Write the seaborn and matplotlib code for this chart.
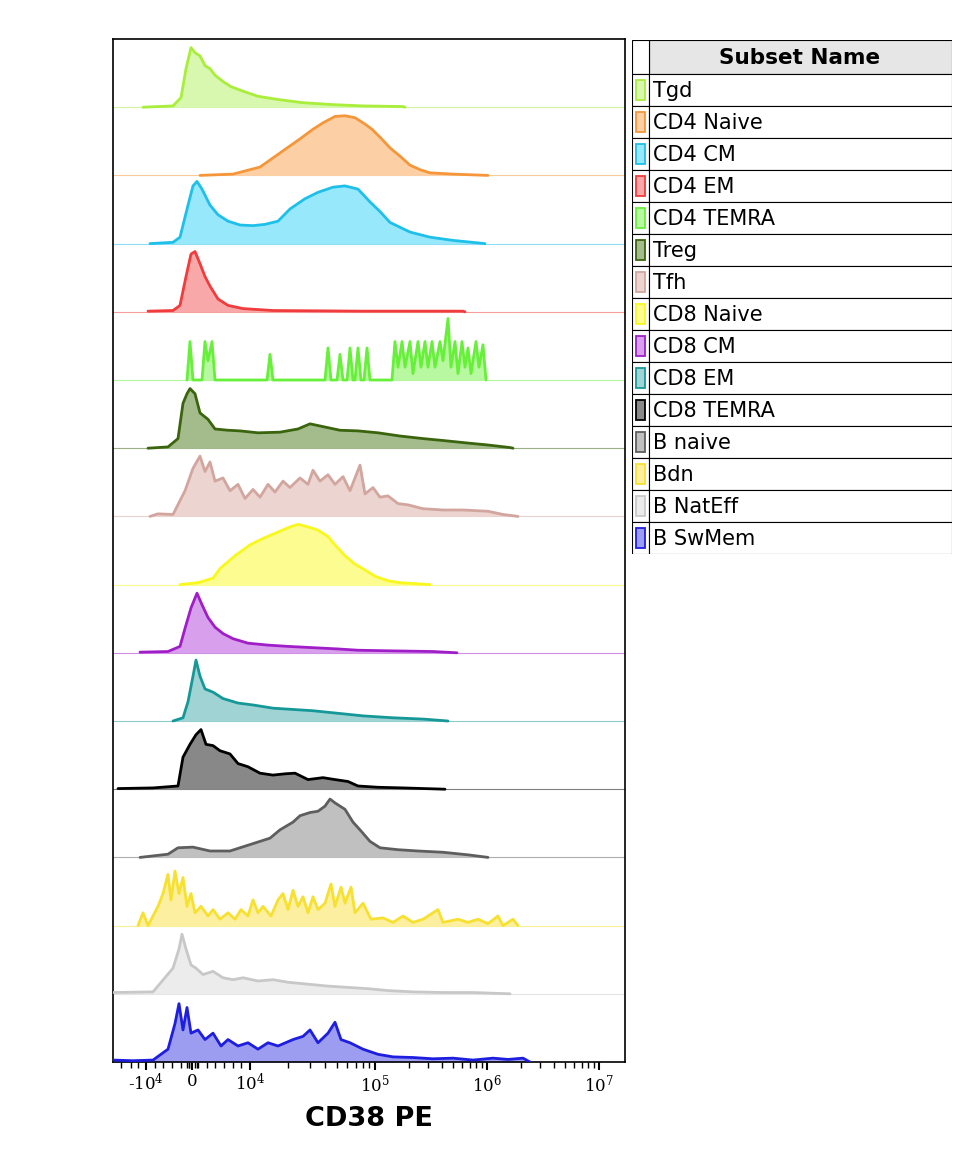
import matplotlib
matplotlib.use('Agg')
import matplotlib.pyplot as plt
import seaborn as sns
import numpy as np
import pandas as pd
from matplotlib.patches import Rectangle

# Subset names, colours (line, fill)
subsets = ['Tgd', 'CD4 Naive', 'CD4 CM', 'CD4 EM', 'CD4 TEMRA', 'Treg', 'Tfh',
           'CD8 Naive', 'CD8 CM', 'CD8 EM', 'CD8 TEMRA', 'B naive', 'Bdn',
           'B NatEff', 'B SwMem']
line_colors = ['#a8ee3a', '#f5963a', '#1ec0ea', '#f03c3c', '#66f03a', '#3a640e',
               '#d2a69e', '#f8f81e', '#a01ec8', '#169898', '#000000', '#5e5e5e',
               '#f8e030', '#c8c8c8', '#1e1ee0']
fill_colors = ['#d8f8b0', '#fcd0a4', '#98e8fc', '#f8a8a8', '#b8f8a0', '#a4bc8c',
               '#ecd4d0', '#fcfc90', '#d8a0ec', '#a0d4d4', '#888888', '#c0c0c0',
               '#fcf0a0', '#ececec', '#9c9cf0']

# Histograms on display channel scale (0..512) with normalised counts
tgd_x = [30, 60, 68, 73, 78, 82, 87, 92, 97, 102, 110, 118, 130, 145, 165, 190, 220, 250, 290, 292]
tgd_y = [0, .02, .15, .6, .93, .85, .8, .65, .6, .5, .4, .32, .25, .17, .12, .07, .04, .02, .01, 0]
cd4n_x = [87, 120, 147, 167, 187, 200, 210, 222, 232, 242, 252, 259, 268, 277, 287, 297, 307, 317, 340, 375]
cd4n_y = [0, .02, .13, .35, .57, .72, .82, .92, .93, .9, .8, .72, .58, .43, .3, .16, .09, .04, .02, 0]
cd4cm_x = [37, 60, 67, 75, 80, 84, 89, 97, 105, 115, 127, 140, 152, 165, 177, 192, 205, 220, 232, 245, 257, 267, 277, 297, 317, 340, 372]
cd4cm_y = [0, .02, .1, .6, .9, .97, .85, .6, .45, .35, .29, .28, .3, .35, .54, .7, .8, .88, .9, .85, .65, .5, .33, .18, .1, .05, 0]
cd4em_x = [35, 60, 67, 73, 78, 82, 87, 92, 97, 105, 115, 130, 160, 250, 350, 352]
cd4em_y = [.01, .02, .1, .55, .9, .94, .75, .55, .4, .2, .1, .05, .02, .01, .01, 0]
temra4_x = [74, 77, 80, 89, 92, 95, 99, 102, 154, 157, 160, 212, 215, 218, 224, 227, 230, 234, 237, 240,
            242, 245, 248, 251, 254, 257, 279, 282, 285, 289, 292, 297, 300, 305, 308, 312, 315, 319,
            322, 327, 330, 335, 338, 342, 345, 349, 352, 355, 358, 363, 366, 370, 373]
temra4_y = [0, .6, 0, 0, .6, .3, .6, 0, 0, .4, 0, 0, .5, 0, 0, .4, 0, 0, .5, 0,
            0, .5, 0, 0, .5, 0, 0, .6, .2, .6, .2, .6, .1, .6, .2, .6, .2, .6,
            .2, .6, .3, .96, .2, .6, .1, .6, .2, .5, .1, .6, .2, .55, 0]
treg_x = [35, 55, 65, 70, 74, 77, 82, 87, 95, 102, 115, 127, 145, 167, 185, 197, 212, 227, 245, 265, 287, 310, 330, 355, 375, 397, 400]
treg_y = [0, .02, .15, .7, .85, .93, .85, .55, .45, .3, .28, .27, .24, .25, .3, .38, .33, .28, .27, .24, .19, .15, .12, .08, .05, .01, 0]
tfh_x = [37, 45, 60, 72, 80, 87, 92, 97, 102, 110, 117, 125, 132, 140, 147, 155, 162, 170, 177, 187, 195, 200,
         207, 215, 222, 230, 237, 247, 252, 260, 267, 275, 285, 295, 310, 330, 350, 375, 390, 405]
tfh_y = [0, .04, .03, .4, .75, .94, .7, .85, .55, .6, .4, .5, .28, .42, .3, .5, .38, .55, .45, .6, .5, .72,
         .55, .65, .5, .62, .4, .8, .35, .45, .3, .32, .2, .18, .12, .1, .1, .08, .03, 0]
cd8n_x = [67, 85, 100, 107, 122, 137, 150, 165, 177, 185, 195, 205, 215, 222, 232, 242, 255, 262, 275, 287, 317]
cd8n_y = [0, .03, .1, .25, .45, .62, .72, .82, .9, .94, .9, .85, .75, .62, .45, .32, .2, .13, .06, .03, 0]
cd8cm_x = [27, 55, 67, 72, 78, 84, 89, 95, 102, 110, 120, 135, 155, 175, 200, 225, 245, 280, 320, 344]
cd8cm_y = [.01, .02, .1, .38, .7, .93, .75, .55, .4, .3, .22, .15, .12, .1, .08, .06, .04, .03, .02, 0]
cd8em_x = [60, 70, 75, 80, 83, 87, 92, 100, 110, 125, 140, 160, 180, 200, 225, 250, 280, 310, 335]
cd8em_y = [0, .05, .3, .7, .95, .7, .5, .45, .35, .28, .25, .2, .18, .16, .12, .08, .05, .03, 0]
temra8_x = [5, 40, 65, 70, 77, 83, 88, 93, 100, 107, 117, 125, 135, 147, 160, 172, 182, 195, 210, 222, 235, 245, 265, 290, 332]
temra8_y = [.01, .02, .05, .5, .7, .85, .93, .7, .68, .6, .55, .4, .35, .25, .22, .24, .25, .15, .18, .15, .12, .05, .03, .02, 0]
bnaive_x = [27, 55, 65, 80, 97, 117, 137, 157, 167, 180, 187, 197, 205, 212, 217, 222, 232, 240, 247, 257, 267, 285, 305, 330, 355, 375]
bnaive_y = [0, .05, .15, .16, .1, .1, .2, .3, .43, .55, .65, .7, .72, .8, .91, .85, .75, .55, .43, .25, .15, .12, .1, .08, .04, 0]
bdn_x = [25, 30, 35, 45, 50, 55, 58, 62, 66, 70, 74, 78, 82, 88, 95, 100, 107, 115, 122, 128, 135, 140, 145, 150, 158,
         165, 170, 175, 180, 185, 190, 195, 200, 205, 212, 218, 222, 228, 232, 238, 242, 250, 258, 270, 280, 290,
         300, 310, 325, 330, 345, 355, 365, 375, 385, 390, 400, 405]
bdn_y = [0, .2, 0, .3, .5, .8, .4, .85, .5, .75, .3, .5, .2, .3, .15, .25, .1, .2, .1, .25, .15, .4, .2, .3, .15,
         .4, .5, .25, .55, .3, .45, .2, .45, .25, .35, .65, .3, .6, .35, .6, .2, .35, .1, .12, .05, .15,
         .05, .1, .25, .05, .1, .05, .1, .03, .15, 0, .1, 0]
bnat_x = [0, 40, 60, 66, 69, 73, 78, 83, 90, 100, 110, 120, 130, 145, 160, 175, 195, 215, 235, 255, 275, 300, 330, 360, 397]
bnat_y = [.02, .03, .4, .7, .93, .7, .45, .4, .3, .35, .25, .22, .25, .2, .22, .18, .15, .12, .1, .08, .05, .03, .02, .02, 0]
bsw_x = [0, 20, 40, 55, 62, 66, 70, 74, 78, 85, 92, 100, 108, 115, 125, 135, 145, 155, 165, 180, 190, 197, 205,
         215, 222, 228, 237, 250, 265, 280, 300, 320, 340, 360, 380, 395, 410, 417]
bsw_y = [.03, .02, .03, .2, .6, .91, .5, .85, .45, .5, .35, .45, .25, .35, .25, .3, .2, .3, .25, .35, .4, .5, .3,
         .45, .62, .35, .3, .2, .12, .08, .07, .05, .06, .03, .06, .04, .06, 0]

hist_x = [tgd_x, cd4n_x, cd4cm_x, cd4em_x, temra4_x, treg_x, tfh_x, cd8n_x, cd8cm_x, cd8em_x,
          temra8_x, bnaive_x, bdn_x, bnat_x, bsw_x]
hist_y = [tgd_y, cd4n_y, cd4cm_y, cd4em_y, temra4_y, treg_y, tfh_y, cd8n_y, cd8cm_y, cd8em_y,
          temra8_y, bnaive_y, bdn_y, bnat_y, bsw_y]

# axis ticks (channel positions of the biexponential scale)
tick_pos = [33, 79, 137, 262, 374, 486]
tick_labels = [r'-$\mathregular{10^{4}}$', '0', r'$\mathregular{10^{4}}$',
               r'$\mathregular{10^{5}}$', r'$\mathregular{10^{6}}$', r'$\mathregular{10^{7}}$']

sns.set_style('white')
plt.rcParams['font.family'] = ['DejaVu Sans']
plt.rcParams['text.color'] = 'black'
plt.rcParams['axes.labelcolor'] = 'black'
plt.rcParams['xtick.color'] = 'black'
W, H = 973, 1153
fig = plt.figure(figsize=(W / 100, H / 100), dpi=100)
ax = fig.add_axes([113 / W, (H - 1062) / H, 512 / W, 1023 / H])

n = len(subsets)
for i in range(n):
    base = n - 1 - i
    df = pd.DataFrame({'x': hist_x[i], 'y': 0.94 * np.array(hist_y[i]) + base})
    ax.fill_between(df['x'], base, df['y'], color=fill_colors[i], lw=0, zorder=2 + i * 0.01)
    ax.axhline(base, color=line_colors[i], lw=0.8, alpha=0.5, zorder=1)
    sns.lineplot(data=df, x='x', y='y', ax=ax, color=line_colors[i], lw=2,
                 sort=False, estimator=None, zorder=3 + i * 0.01)

ax.set_xlim(0, 512)
ax.set_ylim(0, n)
ax.set_yticks([])
ax.set_xticks(tick_pos)
ax.set_xticklabels(tick_labels, fontfamily='DejaVu Serif', fontsize=12)
# minor ticks
minor = []
for a, b in [(137, 262), (262, 374), (374, 486)]:
    minor += [a + (b - a) * np.log10(k) for k in range(2, 10)]
minor += list(np.linspace(33, 137, 13)[1:-1]) + [8, 18, 25, 74, 76, 82, 84]
ax.set_xticks(minor, minor=True)
ax.tick_params(axis='x', which='both', bottom=True, color='black')
ax.tick_params(axis='x', which='major', length=6, width=1.5, direction='out', pad=2)
ax.tick_params(axis='x', which='minor', length=4, width=1, direction='out')
ax.set_xlabel('CD38 PE', fontsize=19.5, fontweight='bold', labelpad=8, color='black')
ax.set_ylabel('')
for s in ax.spines.values():
    s.set_linewidth(1.2)
    s.set_color('black')

# legend table
lax = fig.add_axes([632 / W, (H - 554) / H, 320 / W, 514 / H])
lax.set_xlim(632, 952)
lax.set_ylim(554, 40)
lax.axis('off')
lax.add_patch(Rectangle((649, 40), 303, 34, facecolor='#e6e6e6', edgecolor='black', lw=0.8))
lax.add_patch(Rectangle((632, 40), 17, 34, facecolor='white', edgecolor='black', lw=0.8))
lax.text(800, 58, 'Subset Name', ha='center', va='center', fontsize=15.5, fontweight='bold',
         color='black')
for i, name in enumerate(subsets):
    y0 = 74 + i * 32
    lax.add_patch(Rectangle((632, y0), 17, 32, facecolor='white', edgecolor='black', lw=0.8))
    lax.add_patch(Rectangle((649, y0), 303, 32, facecolor='white', edgecolor='black', lw=0.8))
    lax.add_patch(Rectangle((636, y0 + 6), 9, 20, facecolor=fill_colors[i],
                            edgecolor=line_colors[i], lw=1.3))
    lax.text(653, y0 + 17, name, ha='left', va='center', fontsize=15, color='black')

fig.savefig('out.png', dpi=100)
plt.close()
